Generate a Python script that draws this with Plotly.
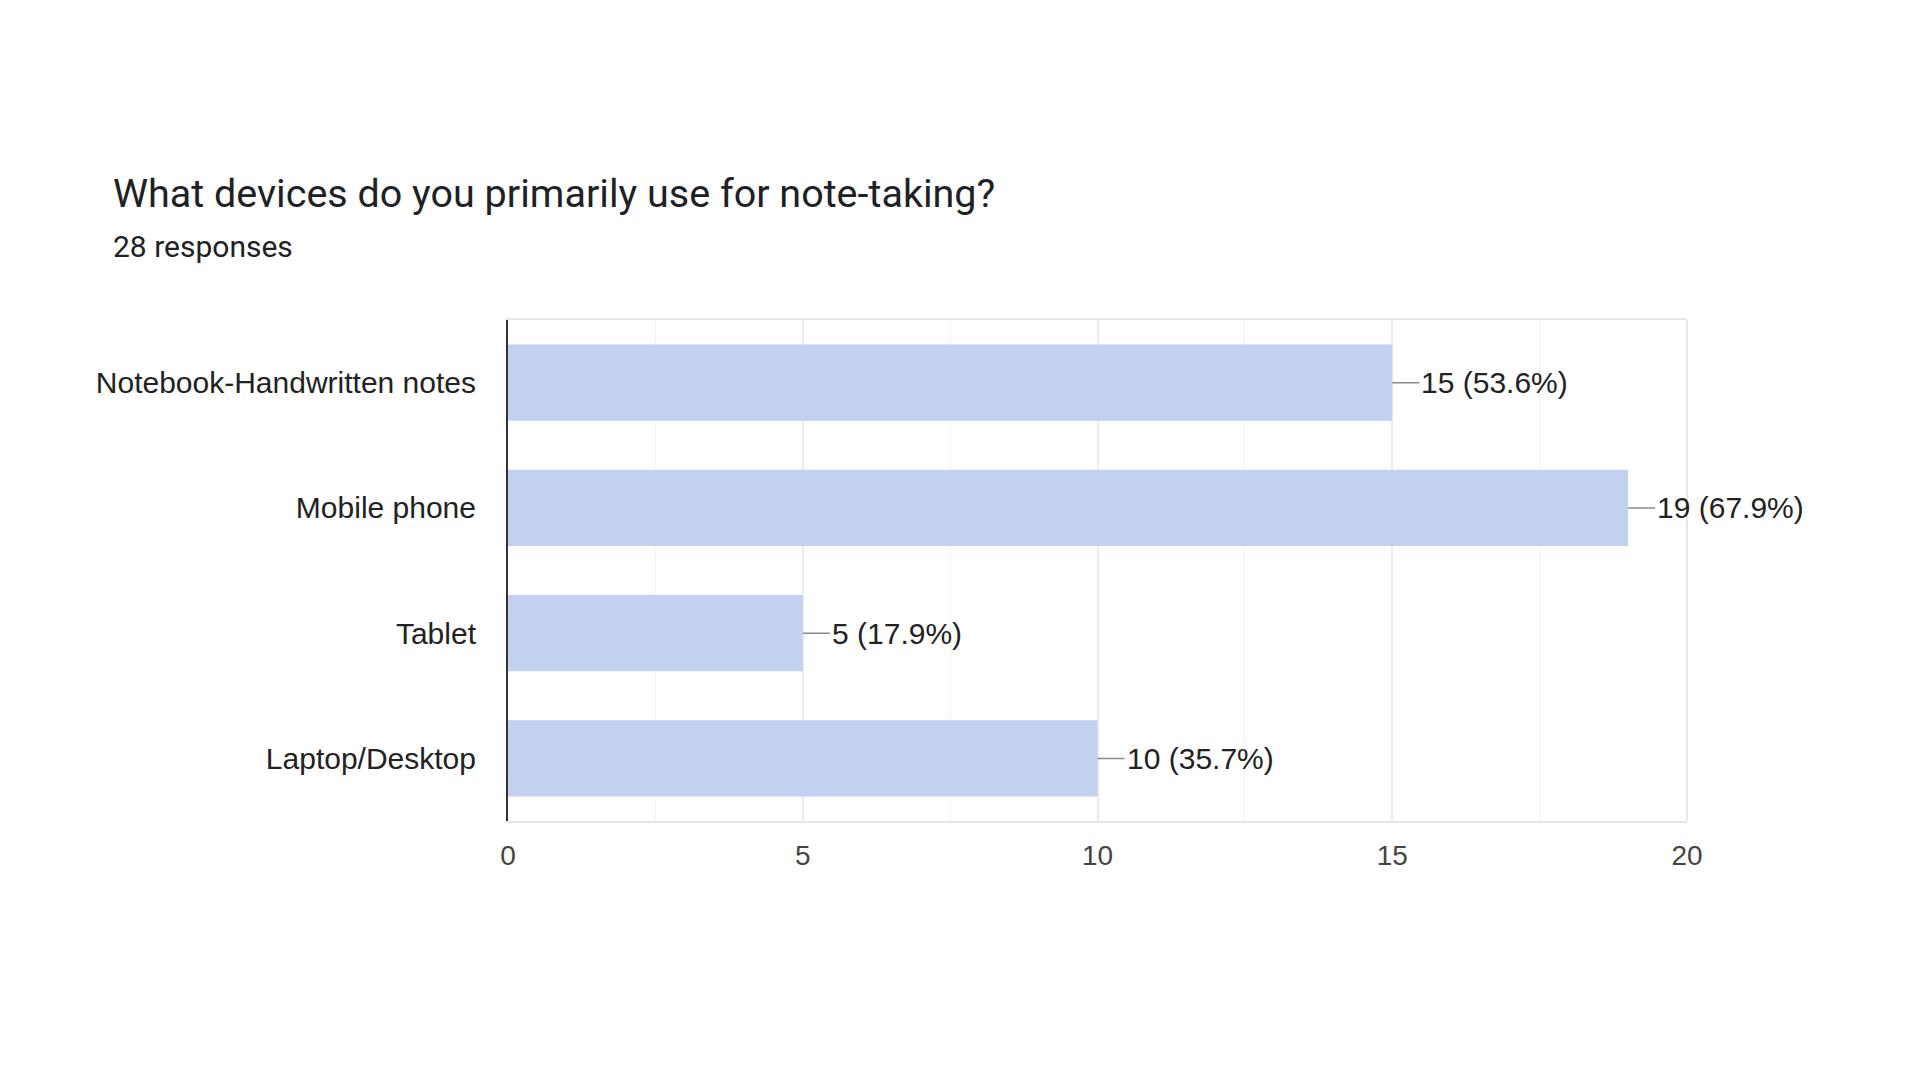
import plotly.graph_objects as go

# survey data
devices = ["Notebook-Handwritten notes", "Mobile phone", "Tablet", "Laptop/Desktop"]
counts = [15, 19, 5, 10]
total_responses = 28
x_ticks = [0, 5, 10, 15, 20]

title_text = "What devices do you primarily use for note-taking?"
subtitle_text = f"{total_responses} responses"

label_font = dict(family="Liberation Sans, Arial, sans-serif", size=30, color="#222222")

fig = go.Figure()
fig.add_trace(go.Bar(
    x=counts,
    y=devices,
    orientation="h",
    marker=dict(color="#c2d1f0", line=dict(width=0)),
    hoverinfo="x+y",
))

# value labels with short leader line
for dev, n in zip(devices, counts):
    pct = n / total_responses * 100
    fig.add_annotation(
        x=n, y=dev,
        text=f"{n} ({pct:.1f}%)",
        showarrow=True, arrowhead=0, arrowwidth=1.5, arrowcolor="#8a8a8a",
        ax=27, ay=0, xanchor="left", standoff=0,
        font=label_font,
    )

# plot area: left 500, right 1679, top 312, bottom 813
fig.add_annotation(
    xref="paper", yref="paper", x=-0.337, y=1.253,
    text=title_text, showarrow=False, xanchor="left", yanchor="middle",
    font=dict(family="Roboto, sans-serif", size=39.5, color="#202124"),
)
fig.add_annotation(
    xref="paper", yref="paper", x=-0.337, y=1.146,
    text=subtitle_text, showarrow=False, xanchor="left", yanchor="middle",
    font=dict(family="Roboto, sans-serif", size=30, color="#202124"),
)

# right edge of the frame
fig.add_shape(type="line", xref="paper", yref="paper", x0=1, x1=1, y0=0, y1=1,
              line=dict(color="#e6e6e6", width=2), layer="below")

fig.update_layout(
    width=1920, height=1080,
    margin=dict(l=500, r=241, t=312, b=267),
    paper_bgcolor="white", plot_bgcolor="white",
    showlegend=False,
    bargap=0.39,
)
fig.update_xaxes(
    range=[0, 20], tickvals=x_ticks, ticks="",
    showgrid=True, gridcolor="#ebebeb", gridwidth=1.5,
    minor=dict(dtick=2.5, showgrid=True, gridcolor="#f2f2f2", gridwidth=1),
    showline=True, linecolor="#e6e6e6", linewidth=2, mirror=True,
    zeroline=False,
    tickfont=dict(family="Liberation Sans, Arial, sans-serif", size=28, color="#444444"),
    ticklabelstandoff=8,
)
fig.update_yaxes(
    categoryorder="array", categoryarray=devices, autorange="reversed",
    showline=True, linecolor="#333333", linewidth=2, mirror=False,
    showgrid=False, ticks="",
    tickfont=label_font,
    ticklabelstandoff=24,
)

fig.write_html("out.html")
